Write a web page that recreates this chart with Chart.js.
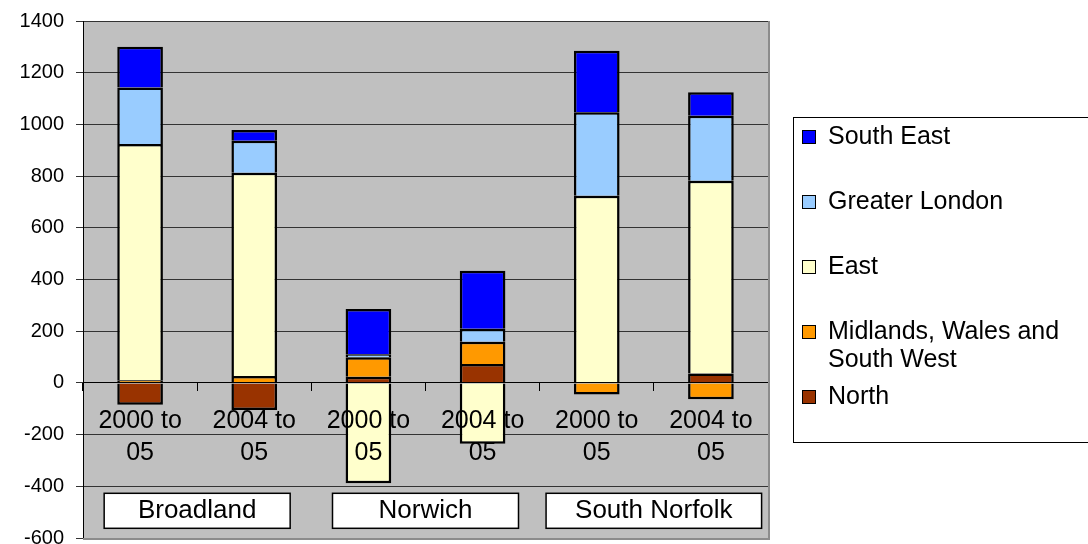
<!DOCTYPE html>
<html>
<head>
<meta charset="utf-8">
<script src="https://cdn.jsdelivr.net/npm/chart.js@4.4.0/dist/chart.umd.min.js"></script>
<style>
html, body { margin:0; padding:0; background:#fff; }
#wrap { position:relative; width:1088px; height:544px; }
</style>
</head>
<body>
<div id="wrap"><canvas id="chart-canvas"></canvas></div>
<script>
// categories, two lines each as they sit under the zero line
var periods = [["2000 to","05"],["2004 to","05"],["2000 to","05"],["2004 to","05"],["2000 to","05"],["2004 to","05"]];
var districts = ["Broadland","Norwich","South Norfolk"];

// series, bottom of the stack first
var seriesNames = ["North","Midlands, Wales and South West","East","Greater London","South East"];
var seriesColors = ["#993300","#FF9900","#FFFFCC","#99CCFF","#0000FF"];
var north     = [-85, -105, 24, 73, 0, 36];
var midlands  = [10, 27, 75, 86, -45, -63];
var east      = [914, 786, -388, -235, 724, 746];
var london    = [219, 124, 12, 50, 323, 251];
var southEast = [157, 41, 175, 225, 238, 91];

// value axis
var yMin = -600, yMax = 1400, yStep = 200;

var FONT = "'Liberation Sans', Arial, sans-serif";
Chart.defaults.font.family = FONT;
Chart.defaults.color = "#000";

var series = [north, midlands, east, london, southEast];
var datasets = series.map(function(vals, i){
  return {
    label: seriesNames[i],
    data: vals,
    backgroundColor: seriesColors[i],
    borderColor: "#000",
    borderWidth: 2.5
  };
});

// grey plot area + right/bottom frame
var plotBg = {
  id: "plotBg",
  beforeDraw: function(chart){
    var c = chart.ctx, a = chart.chartArea;
    c.save();
    c.fillStyle = "#C0C0C0";
    c.fillRect(a.left, a.top, a.right - a.left, a.bottom - a.top);
    c.restore();
  },
  afterDraw: function(chart){
    var c = chart.ctx, a = chart.chartArea;
    c.save();
    c.strokeStyle = "#8C8C8C";
    c.lineWidth = 2;
    c.beginPath();
    c.moveTo(a.right + 1, a.top);
    c.lineTo(a.right + 1, a.bottom + 1);
    c.lineTo(a.left, a.bottom + 1);
    c.stroke();
    c.restore();
  }
};

// district name boxes under each pair of bars
var groupBoxes = {
  id: "groupBoxes",
  afterDraw: function(chart){
    var c = chart.ctx, x = chart.scales.x, y = chart.scales.y;
    c.save();
    c.font = "26px " + FONT;
    c.textAlign = "center";
    c.textBaseline = "middle";
    var top = y.getPixelForValue(-400) + 7;
    districts.forEach(function(name, i){
      var cx = (x.getPixelForValue(2*i) + x.getPixelForValue(2*i+1)) / 2;
      var w = Math.max(186, c.measureText(name).width + 58);
      c.fillStyle = "#fff";
      c.fillRect(cx - w/2, top, w, 35);
      c.strokeStyle = "#000";
      c.lineWidth = 1.5;
      c.strokeRect(cx - w/2, top, w, 35);
      c.fillStyle = "#000";
      c.fillText(name, cx, top + 18);
    });
    c.restore();
  }
};

// boxed legend on the right, top series first
var legendBox = {
  id: "legendBox",
  afterDraw: function(chart){
    var c = chart.ctx, a = chart.chartArea;
    var bx = a.right + 25, by = 117;
    c.save();
    c.strokeStyle = "#000";
    c.lineWidth = 1;
    c.strokeRect(bx + 0.5, by + 0.5, 330, 325);
    c.font = "25px " + FONT;
    c.textBaseline = "middle";
    var ds = chart.data.datasets.slice().reverse();
    ds.forEach(function(d, i){
      var cy = by + 20 + i*65;
      c.fillStyle = d.backgroundColor;
      c.fillRect(bx + 9, cy - 7, 14, 14);
      c.strokeRect(bx + 9.5, cy - 6.5, 13, 13);
      // wrap long names
      var words = d.label.split(" "), lines = [], cur = "";
      words.forEach(function(wd){
        var t = cur ? cur + " " + wd : wd;
        if (c.measureText(t).width > 255 && cur) { lines.push(cur); cur = wd; }
        else cur = t;
      });
      lines.push(cur);
      c.fillStyle = "#000";
      lines.forEach(function(t, j){ c.fillText(t, bx + 35, cy + j*28); });
    });
    c.restore();
  }
};

var ctx = document.getElementById("chart-canvas");
new Chart(ctx, {
  type: "bar",
  data: { labels: periods, datasets: datasets },
  options: {
    responsive: true,
    maintainAspectRatio: false,
    animation: false,
    layout: { padding: { top: 21, right: 320, bottom: 6, left: 0 } },
    plugins: { legend: { display: false }, tooltip: { enabled: false } },
    datasets: { bar: { barPercentage: 0.4, categoryPercentage: 1 } },
    scales: {
      x: {
        stacked: true,
        position: { y: 0 },
        grid: { display: true, drawOnChartArea: false, drawTicks: true, tickLength: 8, color: "#000", offset: true, z: 1 },
        border: { display: true, color: "#000", width: 1, z: 1 },
        ticks: { font: { size: 25, lineHeight: 1.28 }, padding: 14, color: "#000", maxRotation: 0, autoSkip: false, z: 1 },
        afterFit: function(s){ s.paddingLeft = 0; s.paddingRight = 0; }
      },
      y: {
        stacked: true,
        min: yMin,
        max: yMax,
        ticks: { stepSize: yStep, font: { size: 20 }, padding: 12, color: "#000",
                 callback: function(v){ return String(v); } },
        grid: { color: "#333", tickLength: 7 },
        border: { color: "#000", width: 1 },
        afterFit: function(s){ s.width = 83; s.paddingTop = 0; s.paddingBottom = 0; }
      }
    }
  },
  plugins: [plotBg, groupBoxes, legendBox]
});
</script>
</body>
</html>
